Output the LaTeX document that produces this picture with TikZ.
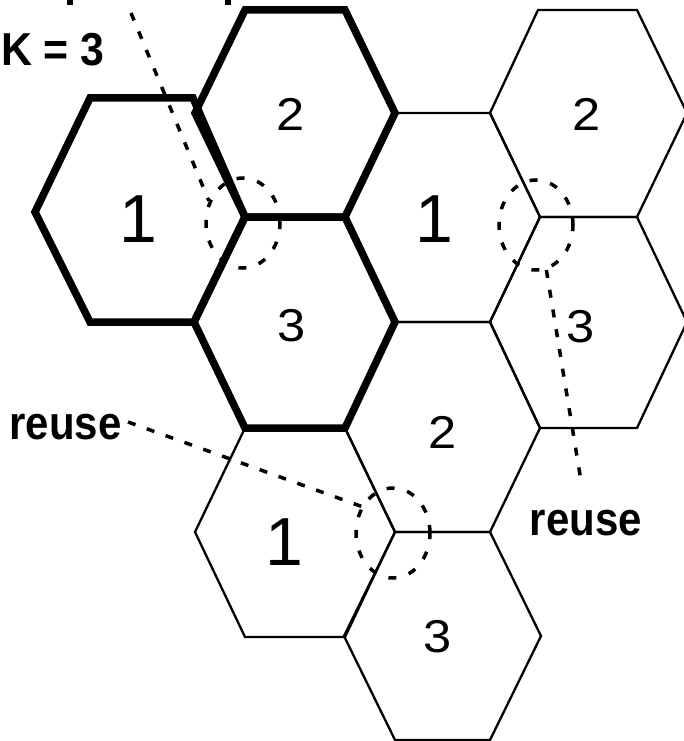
\documentclass[tikz,border=0pt]{standalone}
\usepackage{fontspec}
\usepackage{graphicx}
\setmainfont{Liberation Sans}
\usetikzlibrary{shapes.geometric}
\begin{document}
\begin{tikzpicture}[x=1pt,y=-1pt,
  thincell/.style={draw=black,line width=2.3pt,line join=miter},
  thickcell/.style={draw=black,line width=7.5pt,line join=miter},
  leader/.style={draw=black,line width=3.5pt,dash pattern=on 8pt off 12pt},
  ring/.style={ellipse,draw=black,line width=3.5pt,dash pattern=on 8pt off 13pt,
    minimum width=74pt,minimum height=90pt,inner sep=0pt},
  bignum/.style={inner sep=0pt,font=\fontsize{68}{80}\selectfont},
  smallnum/.style={inner sep=0pt,font=\fontsize{46}{54}\selectfont},
  lbl/.style={inner sep=0pt,font=\bfseries\fontsize{42}{50}\selectfont}]
\useasboundingbox (0,0) rectangle (683,741);

% thin cells
\draw[thincell] (395,113) -- (490,113) -- (540,217) -- (490,322) -- (395,322) -- (345,217) -- cycle; % C1
\draw[thincell] (538,10) -- (637,10) -- (687,113) -- (637,217) -- (540,217) -- (490,113) -- cycle; % D2
\draw[thincell] (540,217) -- (637,217) -- (687,322) -- (637,428) -- (540,428) -- (490,322) -- cycle; % D3
\draw[thincell] (395,322) -- (490,322) -- (540,428) -- (490,532) -- (395,532) -- (345,428) -- cycle; % C2
\draw[thincell] (245,428) -- (345,428) -- (395,532) -- (345,637) -- (245,637) -- (195,532) -- cycle; % B1
\draw[thincell] (395,532) -- (490,532) -- (541,636) -- (490,740) -- (395,740) -- (344,636) -- cycle; % C3

% thick cells (cluster K = 3)
\draw[thickcell] (90,98) -- (193,98) -- (245,217) -- (194,322) -- (90,322) -- (35,212) -- cycle; % A1
\draw[thickcell] (245,10) -- (345,10) -- (395,113) -- (345,217) -- (245,217) -- (195,113) -- cycle; % B2
\draw[thickcell] (245,217) -- (345,217) -- (395,322) -- (345,428) -- (245,428) -- (194,322) -- cycle; % B3

% cell numbers
\node[bignum] (nA1) at (138,219) {1};
\node[smallnum] (nB2) at (291,114) {\scalebox{1.1}[1]{2}};
\node[smallnum] (nD2) at (587,114) {\scalebox{1.1}[1]{2}};
\node[bignum] (nC1) at (434,219) {1};
\node[smallnum] (nB3) at (292,326) {\scalebox{1.1}[1]{3}};
\node[smallnum] (nD3) at (581,327) {\scalebox{1.1}[1]{3}};
\node[smallnum] (nC2) at (443,432) {\scalebox{1.1}[1]{2}};
\node[bignum] (nB1) at (284,542) {1};
\node[smallnum] (nC3) at (438,637) {\scalebox{1.1}[1]{3}};

% reuse rings
\node[ring] (r1) at (243,223) {};
\node[ring] (r2) at (536,225) {};
\node[ring] (r3) at (393,533) {};

% labels
\node[lbl,anchor=west] (kthree) at (1,50) {\scalebox{1.02}[1.1]{K = 3}};
\node[lbl] (lreuse) at (65.5,427.5) {\scalebox{1}[1.12]{reuse}};
\node[lbl] (rreuse) at (586,523) {\scalebox{1}[1.12]{reuse}};

% cropped title fragments at the top edge
\fill[black] (67,0) rectangle (72.5,5);
\fill[black] (225,0) rectangle (230.5,5);

% leaders
\coordinate (toptip) at (131,13);
\coordinate (rtip) at (582,487);
\coordinate (ltip) at (128,422);
\draw[leader] (toptip) -- (r1.147);
\draw[leader] (ltip) -- (r3.140);
\draw[leader] (r2.283) -- (rtip);
\end{tikzpicture}
\end{document}
